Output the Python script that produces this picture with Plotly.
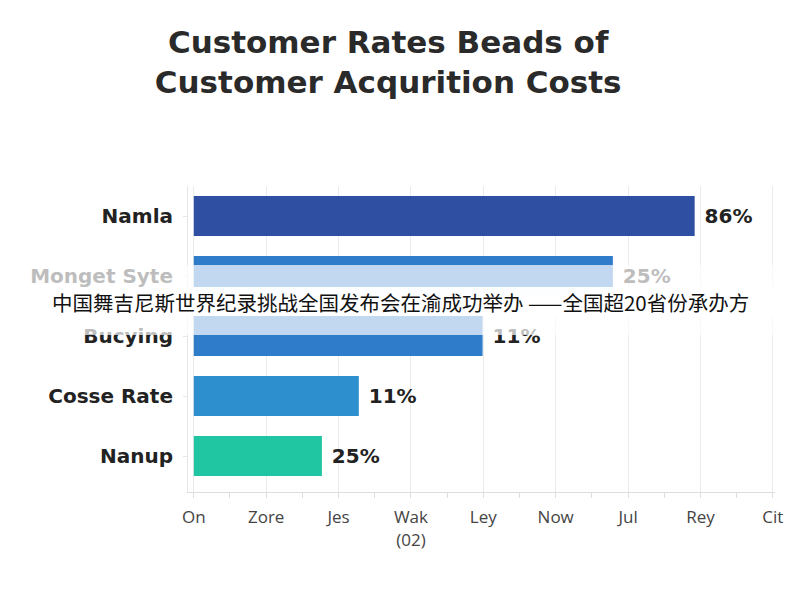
import plotly.graph_objects as go

# 데이터
categories = ["Namla", "Monget Syte", "Bucying", "Cosse Rate", "Nanup"]
bar_values = [6.92, 5.79, 3.99, 2.28, 1.77]
value_labels = ["86%", "25%", "11%", "11%", "25%"]
bar_colors = ["#2F4FA3", "#2F7CCB", "#2F7CCB", "#2E8FCE", "#20C6A2"]
tick_labels = ["On", "Zore", "Jes", "Wak<br>(02)", "Ley", "Now", "Jul", "Rey", "Cit"]
banner_text = "中国舞吉尼斯世界纪录挑战全国发布会在渝成功举办 ——全国超20省份承办方"

fig = go.Figure()

fig.add_trace(go.Bar(
    y=categories,
    x=bar_values,
    orientation="h",
    width=0.67,
    marker=dict(color=bar_colors, line=dict(width=0)),
    text=value_labels,
    texttemplate=" %{text}",
    textposition="outside",
    cliponaxis=False,
    textfont=dict(family="DejaVu Sans", size=20, color="#222222", weight=700),
))

# 페이지 기본 여백(8px)을 감안한 크기
fig.update_layout(
    width=792,
    height=592,
    margin=dict(l=180, r=25, t=178, b=108),
    paper_bgcolor="white",
    plot_bgcolor="white",
    showlegend=False,
    font=dict(family="Open Sans", color="#333333"),
    title=dict(
        text="<b>Customer Rates Beads of<br>Customer Acqurition Costs</b>",
        x=0.48,
        xanchor="center",
        y=0.924,
        yanchor="middle",
        font=dict(family="DejaVu Sans", size=31, color="#2a2a2a"),
    ),
    xaxis=dict(
        range=[-0.08, 8.03],
        tickmode="array",
        tickvals=list(range(len(tick_labels))),
        ticktext=tick_labels,
        tickfont=dict(size=17, color="#444444"),
        showgrid=True,
        gridcolor="#EBEBEB",
        zeroline=False,
        showline=True,
        linecolor="#DDDDDD",
        ticks="",
        ticklabelstandoff=10,
        minor=dict(dtick=0.5, ticks="outside", ticklen=5, tickcolor="#DDDDDD", showgrid=False),
    ),
    yaxis=dict(
        range=[4.6, -0.5],
        tickfont=dict(family="DejaVu Sans", size=20, color="#222222", weight=700),
        showgrid=False,
        showline=True,
        linecolor="#E6E6E6",
        ticks="outside",
        ticklen=4,
        tickcolor="#E6E6E6",
        ticklabelstandoff=6,
    ),
)

# 반투명 흰색 띠
fig.add_shape(type="rect", xref="paper", yref="paper",
              x0=-0.4, x1=1.1, y0=(492 - 335) / 306, y1=(492 - 265) / 306,
              fillcolor="rgba(255,255,255,0.7)", line=dict(width=0), layer="above")
fig.add_shape(type="rect", xref="paper", yref="paper",
              x0=-0.4, x1=1.1, y0=(492 - 315) / 306, y1=(492 - 287) / 306,
              fillcolor="rgba(255,255,255,0.97)", line=dict(width=0), layer="above")

fig.add_annotation(
    text=banner_text,
    xref="paper", yref="paper",
    x=(400 - 188) / 587, y=(492 - 302) / 306,
    xanchor="center", yanchor="middle",
    showarrow=False,
    font=dict(family="Noto Sans CJK SC", size=20.5, color="#111111"),
)

fig.write_html("out.html")
